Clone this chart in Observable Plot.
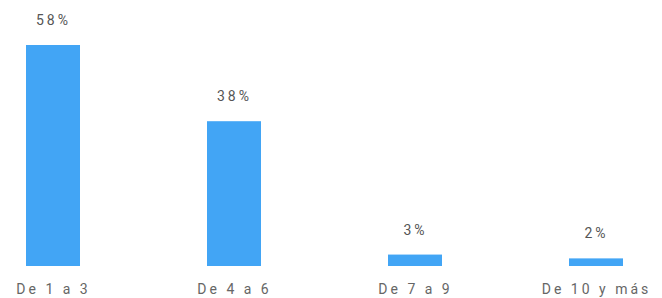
<!DOCTYPE html>
<html>
<head>
<meta charset="utf-8">
<script src="https://cdn.jsdelivr.net/npm/d3@7"></script>
<script src="https://cdn.jsdelivr.net/npm/@observablehq/plot@0.6"></script>
<style>
  html, body { margin: 0; padding: 0; background: #fff; }
  #chart svg { display: block; }
  #chart svg text { letter-spacing: 3px; }
</style>
</head>
<body>
<div id="chart"></div>
<script>
const categories = ["De 1 a 3", "De 4 a 6", "De 7 a 9", "De 10 y más"];
const values = [58, 38, 3, 2];
const labels = ["58%", "38%", "3%", "2%"];

const data = categories.map((c, i) => ({category: c, value: values[i], label: labels[i]}));

const chart = Plot.plot({
  width: 662,
  height: 298,
  marginLeft: 0,
  marginRight: 12,
  marginTop: 45,
  marginBottom: 32,
  style: {fontFamily: "Roboto, 'Open Sans', sans-serif", fontSize: "14px", color: "#666", background: "#fff"},
  x: {domain: categories, paddingInner: 0.7, paddingOuter: 0.14, label: null, tickSize: 0, tickPadding: 18},
  y: {domain: [0, 58], axis: null},
  marks: [
    Plot.barY(data, {x: "category", y: "value", fill: "#42a5f5"}),
    Plot.text(data, {x: "category", y: "value", text: "label", dy: -25, fill: "#555", fontSize: 14})
  ]
});
document.getElementById("chart").appendChild(chart);
</script>
</body>
</html>
